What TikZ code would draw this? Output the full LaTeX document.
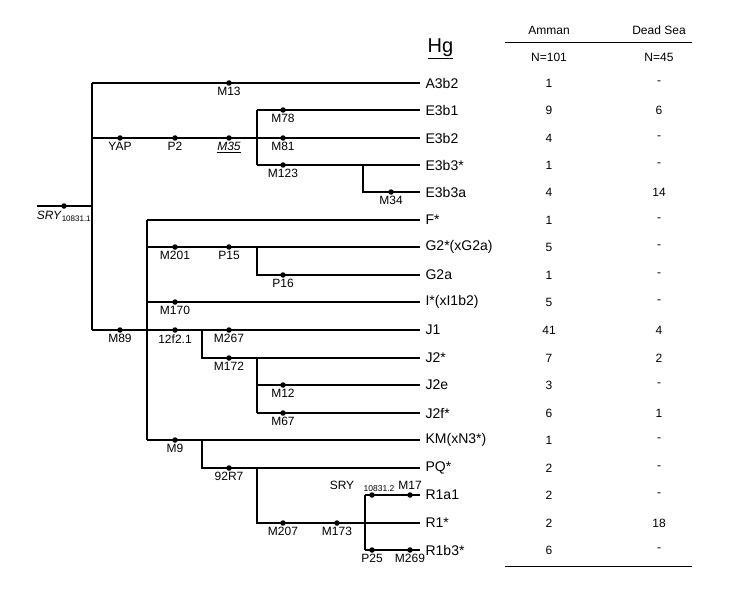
\documentclass[tikz,border=0pt]{standalone}
\usepackage{fontspec}
\setmainfont{Liberation Sans}
\begin{document}
\begin{tikzpicture}[x=1pt,y=-1pt,line width=1.2pt,
 dot/.style={circle,fill,inner sep=0pt,minimum size=5.5pt},
 lb/.style={below=4pt,font=\fontsize{12}{14}\selectfont,inner sep=0pt},
 hg/.style={right,font=\fontsize{14}{16}\selectfont,inner sep=1pt},
 nm/.style={font=\fontsize{12}{14}\selectfont}]
\useasboundingbox (0,0) rectangle (755,591);
\foreach \n/\y/\t/\a/\d in {a/83/A3b2/1/-, b/110/E3b1/9/6, c/138/E3b2/4/-, d/165/E3b3*/1/-, e/192/E3b3a/4/14, f/220/F*/1/-, g/247/G2*(xG2a)/5/-, h/275/G2a/1/-, i/302/I*(xI1b2)/5/-, j/330/J1/41/4, k/358/J2*/7/2, l/385/J2e/3/-, m/413/J2f*/6/1, n/440/KM(xN3*)/1/-, o/468/PQ*/2/-, p/495/R1a1/2/-, q/523/R1*/2/18, r/550/R1b3*/6/-}{
 \coordinate (e\n) at (420,\y);
 \node[hg] (t\n) at (424,\y) {\t};
 \node[nm] (A\n) at (549,\y) {\a};
 \node[nm] (D\n) at (659,\y) {\d};
}
% header
\node[font=\fontsize{20}{22}\selectfont,anchor=base west,inner sep=0pt] (H) at (427,53) {\underline{Hg}};
\node[nm] (ha) at (549,30) {Amman};
\node[nm] (hd) at (659,30) {Dead Sea};
\node[nm] (na) at (549,57) {N=101};
\node[nm] (nd) at (659,57) {N=45};
\draw[line width=1pt] (505,43) coordinate (l1) -- (692,43) coordinate (l2);
\draw[line width=1pt] (505,566) coordinate (l3) -- (692,566) coordinate (l4);
% root
\coordinate (r0) at (37,206); \coordinate (r1) at (92,206);
\draw (r0) -- (r1);
\node[dot] (sry) at (64,206) {};
\node[below=5pt,font=\fontsize{12}{14}\selectfont,inner sep=0pt] at (sry) {\textit{SRY}\textsubscript{10831.1}};
\draw (92,83) -- (92,330);
% A
\draw (92,83) -- (ea); \node[dot] (m13) at (229,83) {}; \node[lb] at (m13) {M13};
% E
\draw (92,138) -- (ec);
\node[dot] (yap) at (120,138) {}; \node[lb] at (yap) {YAP};
\node[dot] (p2) at (175,138) {}; \node[lb] at (p2) {P2};
\node[dot] (m35) at (229,138) {}; \node[lb] at (m35) {\underline{\textit{M35}}};
\draw (257,110) -- (257,165);
\draw (257,110) -- (eb); \node[dot] (m78) at (283,110) {}; \node[lb] at (m78) {M78};
\node[dot] (m81) at (283,138) {}; \node[lb] at (m81) {M81};
\draw (257,165) -- (ed); \node[dot] (m123) at (283,165) {}; \node[lb] at (m123) {M123};
\draw (363,165) -- (363,192) -- (ee); \node[dot] (m34) at (391,192) {}; \node[lb] at (m34) {M34};
% M89
\draw (92,330) -- (ej);
\node[dot] (m89) at (120,330) {}; \node[lb] at (m89) {M89};
\draw (147,220) -- (147,440);
\draw (147,220) -- (ef);
\draw (147,247) -- (eg);
\node[dot] (m201) at (175,247) {}; \node[lb] at (m201) {M201};
\node[dot] (p15) at (229,247) {}; \node[lb] at (p15) {P15};
\draw (257,247) -- (257,275) -- (eh); \node[dot] (p16) at (283,275) {}; \node[lb] at (p16) {P16};
\draw (147,302) -- (ei); \node[dot] (m170) at (175,302) {}; \node[lb] at (m170) {M170};
\node[dot] (f21) at (175,330) {}; \node[lb] at (f21) {12f2.1};
\node[dot] (m267) at (229,330) {}; \node[lb] at (m267) {M267};
\draw (202,330) -- (202,358) -- (ek); \node[dot] (m172) at (229,358) {}; \node[lb] at (m172) {M172};
\draw (257,358) -- (257,413);
\draw (257,385) -- (el); \node[dot] (m12) at (283,385) {}; \node[lb] at (m12) {M12};
\draw (257,413) -- (em); \node[dot] (m67) at (283,413) {}; \node[lb] at (m67) {M67};
\draw (147,440) -- (en); \node[dot] (m9) at (175,440) {}; \node[lb] at (m9) {M9};
\draw (202,440) -- (202,468) -- (eo); \node[dot] (r7) at (229,468) {}; \node[lb] at (r7) {92R7};
\draw (257,468) -- (257,523) -- (eq);
\node[dot] (m207) at (283,523) {}; \node[lb] at (m207) {M207};
\node[dot] (m173) at (337,523) {}; \node[lb] at (m173) {M173};
\draw (365,495) -- (365,550);
\draw (365,495) -- (ep); \draw (365,550) -- (er);
\node[dot] (s2) at (372,495) {};
\node[anchor=base,font=\fontsize{12}{14}\selectfont,inner sep=0pt] at (342,489) {SRY};
\node[anchor=base,font=\fontsize{8.5}{10}\selectfont,inner sep=0pt] at (379,491) {10831.2};
\node[dot] (m17) at (410,495) {}; \node[anchor=base,font=\fontsize{12}{14}\selectfont,inner sep=0pt] at (410,489) {M17};
\node[dot] (p25) at (372,550) {}; \node[lb] at (p25) {P25};
\node[dot] (m269) at (410,550) {}; \node[lb] at (m269) {M269};
\end{tikzpicture}
\end{document}
